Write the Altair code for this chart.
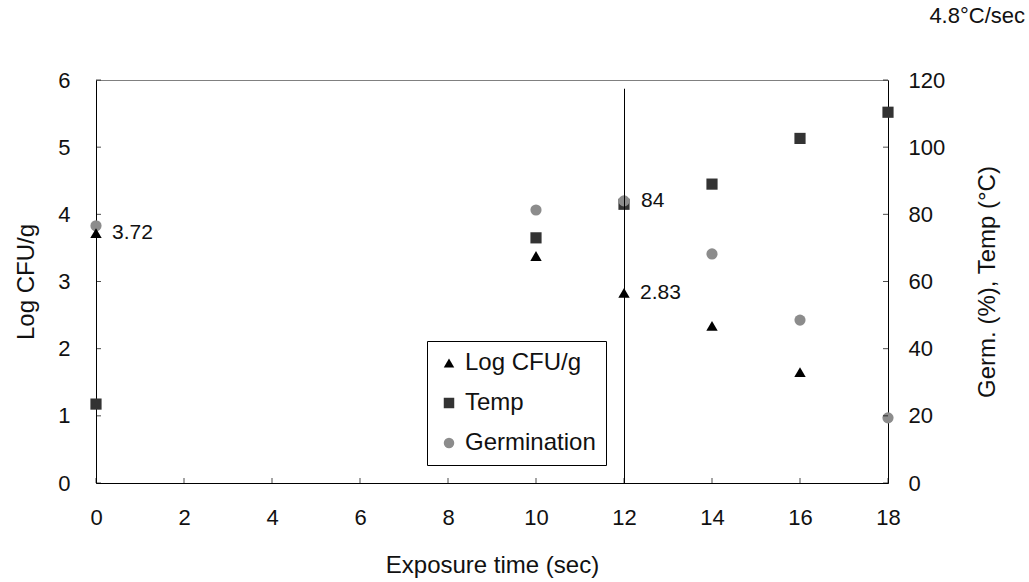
import altair as alt
import pandas as pd

FONT = "Liberation Sans"

# ---- data ----
time_cfu = [0, 10, 12, 14, 16]
log_cfu = [3.72, 3.38, 2.83, 2.34, 1.65]
time_all = [0, 10, 12, 14, 16, 18]
temp = [23.5, 73, 83, 89, 102.6, 110.4]
germ = [76.6, 81.3, 84, 68.2, 48.5, 19.4]

series_names = ["Log CFU/g", "Temp", "Germination"]
series_colors = ["#000000", "#333333", "#8c8c8c"]
series_shapes = ["triangle-up", "square", "circle"]

cfu_label_time = [0, 12]
cfu_label_value = [3.72, 2.83]
cfu_label_text = ["3.72", "2.83"]
germ_label_time = [12]
germ_label_value = [84]
germ_label_text = ["84"]

marker_time = [12]
marker_bottom = [0]
marker_top = [5.87]

x_ticks = list(range(0, 19, 2))
left_ticks = list(range(0, 7))
right_ticks = list(range(0, 121, 20))

# ---- tables ----
cfu_df = pd.DataFrame({"time": time_cfu, "value": log_cfu, "series": series_names[0]})
right_df = pd.concat([
    pd.DataFrame({"time": time_all, "value": temp, "series": series_names[1]}),
    pd.DataFrame({"time": time_all, "value": germ, "series": series_names[2]}),
], ignore_index=True)
cfu_lab_df = pd.DataFrame({"time": cfu_label_time, "value": cfu_label_value, "text": cfu_label_text})
germ_lab_df = pd.DataFrame({"time": germ_label_time, "value": germ_label_value, "text": germ_label_text})
marker_df = pd.DataFrame({"time": marker_time, "y0": marker_bottom, "y1": marker_top})
xt_df = pd.DataFrame({"time": x_ticks, "value": 0})
lt_df = pd.DataFrame({"time": 0, "value": left_ticks})
rt_df = pd.DataFrame({"time": 18, "value": right_ticks})

# ---- scales / axes ----
xscale = alt.Scale(domain=[0, 18], nice=False)
yl_scale = alt.Scale(domain=[0, 6], nice=False)
yr_scale = alt.Scale(domain=[0, 120], nice=False)

common_axis = dict(
    ticks=False, tickSize=0, grid=False, domainColor="black", domainWidth=1,
    labelFont=FONT, labelFontSize=22, labelColor="#111111",
    titleFont=FONT, titleFontSize=24, titleColor="#111111", titleFontWeight="normal",
    labelFlush=False, labelOverlap=False,
)
x_axis = alt.Axis(values=x_ticks, title="Exposure time (sec)", labelPadding=24,
                  titleX=396, titleY=82, titleBaseline="middle", titleAlign="center",
                  format="d", **common_axis)
yl_axis = alt.Axis(values=left_ticks, title="Log CFU/g", orient="left", labelPadding=26,
                   titleX=-70, titleY=201.5, titleAngle=270, titleBaseline="middle",
                   titleAlign="center", format="d", **common_axis)
yr_axis = alt.Axis(values=right_ticks, title="Germ. (%), Temp (°C)", orient="right",
                   labelPadding=20, titleX=99, titleY=201.5, titleAngle=270,
                   titleBaseline="middle", titleAlign="center", format="d", **common_axis)

X = lambda: alt.X("time:Q", scale=xscale, axis=x_axis)
YL = lambda f="value": alt.Y(f"{f}:Q", scale=yl_scale, axis=yl_axis)
YR = lambda: alt.Y("value:Q", scale=yr_scale, axis=yr_axis)

leg = alt.Legend(orient="none", legendX=331, legendY=261, title=None,
                 strokeColor="black", fillColor="white", padding=10,
                 labelFont=FONT, labelFontSize=24, labelColor="#111111",
                 symbolSize=110, rowPadding=16, labelOffset=4, symbolStrokeWidth=0)
color = alt.Color("series:N", scale=alt.Scale(domain=series_names, range=series_colors), legend=leg)
shape = alt.Shape("series:N", scale=alt.Scale(domain=series_names, range=series_shapes), legend=leg)

# ---- right layer (Temp, Germination) ----
right_pts = alt.Chart(right_df).mark_point(filled=True, size=125, opacity=1).encode(
    x=X(), y=YR(), color=color, shape=shape)
right_lab = alt.Chart(germ_lab_df).mark_text(align="left", baseline="middle", dx=17,
                                             font=FONT, fontSize=21, color="#111111").encode(
    x=X(), y=YR(), text="text:N")
right_ticks_l = alt.Chart(rt_df).mark_tick(orient="horizontal", size=5, thickness=1,
                                           color="black", xOffset=-2.5).encode(x=X(), y=YR())
right_layer = alt.layer(right_pts, right_lab, right_ticks_l)

# ---- left layer (Log CFU/g) ----
rule = alt.Chart(marker_df).mark_rule(color="black", strokeWidth=1, xOffset=0.5).encode(
    x=X(), y=YL("y0"), y2="y1:Q")
cfu_pts = alt.Chart(cfu_df).mark_point(filled=True, size=130, opacity=1).encode(
    x=X(), y=YL(), color=color, shape=shape)
cfu_lab = alt.Chart(cfu_lab_df).mark_text(align="left", baseline="middle", dx=16,
                                          font=FONT, fontSize=21, color="#111111").encode(
    x=X(), y=YL(), text="text:N")
left_ticks_l = alt.Chart(lt_df).mark_tick(orient="horizontal", size=5, thickness=1,
                                          color="black", xOffset=2.5).encode(x=X(), y=YL())
x_ticks_l = alt.Chart(xt_df).mark_tick(orient="vertical", size=5, thickness=1,
                                       color="black", yOffset=-2.5).encode(x=X(), y=YL())
left_layer = alt.layer(rule, cfu_pts, cfu_lab, left_ticks_l, x_ticks_l)

chart = alt.layer(right_layer, left_layer).resolve_scale(y="independent").properties(
    width=792, height=403,
    autosize=alt.AutoSizeParams(type="none"),
    padding={"left": 96, "top": 80, "right": 141, "bottom": 99},
    background="white",
    title=alt.TitleParams("4.8°C/sec", anchor="end", frame="group", dx=137, offset=41,
                          font=FONT, fontSize=22, fontWeight="normal", color="#111111"),
).configure_view(stroke="#808080", strokeWidth=1)

chart.save("out.html", embed_options={"renderer": "svg", "actions": False})
